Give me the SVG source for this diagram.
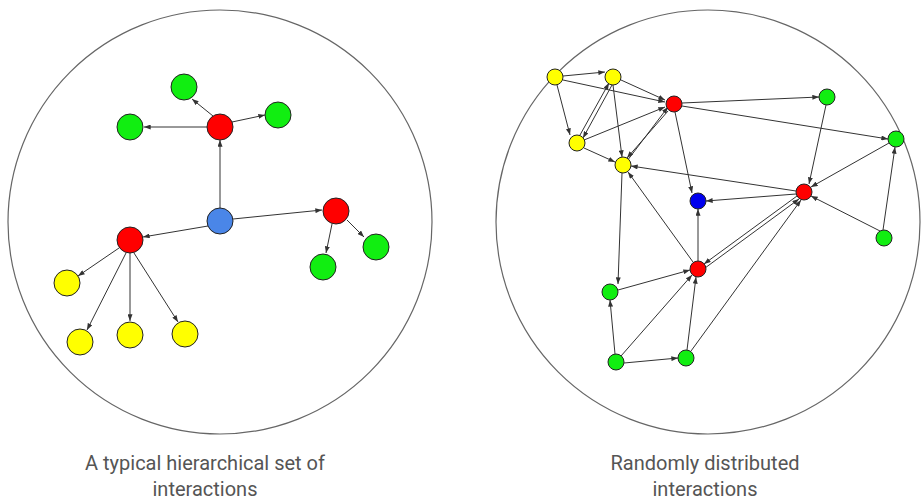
<svg xmlns="http://www.w3.org/2000/svg" width="923" height="503" viewBox="0 0 923 503">
<style>
.ring{fill:none;stroke:#666;stroke-width:1.2}
.e{stroke:#333;stroke-width:1;fill:none;marker-end:url(#a)}
.n{stroke:#222;stroke-width:1}
.r{fill:#f00}.g{fill:#1e1}.y{fill:#ff0}.b{fill:#00e}.lb{fill:#4a86e8}
text{font-family:"Roboto","Liberation Sans",sans-serif;font-size:20px;fill:#555;text-anchor:middle}
</style>
<defs><marker id="a" viewBox="0 0 8 6" refX="8" refY="3" markerWidth="7" markerHeight="5" orient="auto" markerUnits="userSpaceOnUse"><path d="M0,0L8,3L0,6z" fill="#333"/></marker></defs>
<circle class="ring" cx="220" cy="222" r="212"/>
<circle class="ring" cx="708" cy="222" r="212"/>
<g id="connectors">
<path class="e" d="M220,208L220,140"/>
<path class="e" d="M207,127L144,127"/>
<path class="e" d="M213,116L192,99"/>
<path class="e" d="M232,122L265,115"/>
<path class="e" d="M233,219L322,210"/>
<path class="e" d="M332,224L326,253"/>
<path class="e" d="M347,220L364,237"/>
<path class="e" d="M208,226L143,237"/>
<path class="e" d="M119,248L78,276"/>
<path class="e" d="M126,253L87,330"/>
<path class="e" d="M130,253L130,321"/>
<path class="e" d="M134,253L178,322"/>
<path class="e" d="M563,76L605,72"/>
<path class="e" d="M563,80L665,102"/>
<path class="e" d="M557,85L570,135"/>
<path class="e" d="M621,80L665,100"/>
<path class="e" d="M613,85L622,157"/>
<path class="e" d="M580,135L609,83"/>
<path class="e" d="M612,85L583,138"/>
<path class="e" d="M584,140L665,107"/>
<path class="e" d="M584,148L615,162"/>
<path class="e" d="M668,111L627,158"/>
<path class="e" d="M627,161L668,107"/>
<path class="e" d="M682,103L819,97"/>
<path class="e" d="M682,106L888,139"/>
<path class="e" d="M675,112L692,193"/>
<path class="e" d="M826,105L809,184"/>
<path class="e" d="M889,143L811,187"/>
<path class="e" d="M796,191L631,166"/>
<path class="e" d="M796,194L706,201"/>
<path class="e" d="M880,231L811,196"/>
<path class="e" d="M883,230L895,147"/>
<path class="e" d="M797,196L704,264"/>
<path class="e" d="M705,268L799,199"/>
<path class="e" d="M691,351L801,200"/>
<path class="e" d="M698,261L698,209"/>
<path class="e" d="M693,262L628,172"/>
<path class="e" d="M622,173L618,284"/>
<path class="e" d="M618,290L690,270"/>
<path class="e" d="M615,354L610,300"/>
<path class="e" d="M621,356L692,275"/>
<path class="e" d="M624,363L678,358"/>
<path class="e" d="M687,350L696,277"/>
</g>
<g id="n-blue"><circle class="n lb" cx="220" cy="221" r="13"/></g>
<g id="n-rtop"><circle class="n r" cx="220" cy="127" r="13"/></g>
<g id="n-g1"><circle class="n g" cx="184" cy="87" r="13"/></g>
<g id="n-g2"><circle class="n g" cx="130" cy="127" r="13"/></g>
<g id="n-g3"><circle class="n g" cx="278" cy="115" r="13"/></g>
<g id="n-rright"><circle class="n r" cx="336" cy="211" r="13"/></g>
<g id="n-g4"><circle class="n g" cx="376" cy="247" r="13"/></g>
<g id="n-g5"><circle class="n g" cx="323" cy="267" r="13"/></g>
<g id="n-rleft"><circle class="n r" cx="130" cy="240" r="13"/></g>
<g id="n-y1"><circle class="n y" cx="67" cy="283" r="13"/></g>
<g id="n-y2"><circle class="n y" cx="80" cy="342" r="13"/></g>
<g id="n-y3"><circle class="n y" cx="130" cy="335" r="13"/></g>
<g id="n-y4"><circle class="n y" cx="185" cy="334" r="13"/></g>
<g id="m-y1"><circle class="n y" cx="555" cy="77" r="8"/></g>
<g id="m-y2"><circle class="n y" cx="613" cy="77" r="8"/></g>
<g id="m-y3"><circle class="n y" cx="577" cy="143" r="8"/></g>
<g id="m-y4"><circle class="n y" cx="623" cy="165" r="8"/></g>
<g id="m-r1"><circle class="n r" cx="674" cy="104" r="8"/></g>
<g id="m-g1"><circle class="n g" cx="827" cy="97" r="8"/></g>
<g id="m-g2"><circle class="n g" cx="896" cy="139" r="8"/></g>
<g id="m-r2"><circle class="n r" cx="804" cy="192" r="8"/></g>
<g id="m-b"><circle class="n b" cx="698" cy="201" r="8"/></g>
<g id="m-g3"><circle class="n g" cx="884" cy="238" r="8"/></g>
<g id="m-r3"><circle class="n r" cx="698" cy="269" r="8"/></g>
<g id="m-g4"><circle class="n g" cx="610" cy="292" r="8"/></g>
<g id="m-g5"><circle class="n g" cx="616" cy="362" r="8"/></g>
<g id="m-g6"><circle class="n g" cx="686" cy="358" r="8"/></g>
<text x="205" y="470">A typical hierarchical set of</text>
<text x="205" y="496">interactions</text>
<text x="705" y="470">Randomly distributed</text>
<text x="705" y="496">interactions</text>
</svg>
